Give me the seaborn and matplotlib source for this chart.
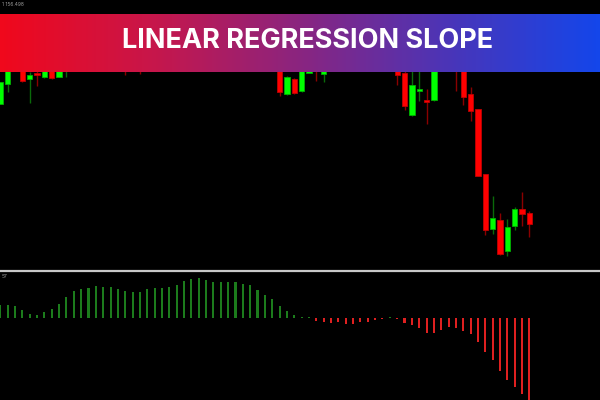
import numpy as np
import pandas as pd
import seaborn as sns
import matplotlib.pyplot as plt
from matplotlib.colors import LinearSegmentedColormap
from matplotlib.lines import Line2D

# OHLC of each bar (many of them sit behind the title banner)
opens = [154.42, 154.81, 155.40, 155.26, 154.91, 155.03, 154.96, 155.30, 154.96, 155.10,
         155.26, 155.40, 155.32, 155.50, 155.62, 155.48, 155.36, 155.20, 155.10, 155.22,
         155.16, 155.34, 155.52, 155.66, 155.80, 155.74, 155.90, 156.02, 155.94, 156.06,
         155.96, 155.80, 155.66, 155.50, 155.56, 155.42, 155.28, 155.34, 155.18, 154.61,
         154.92, 154.68, 155.04, 155.30, 155.02, 155.12, 155.28, 155.40, 155.34, 155.46,
         155.38, 155.30, 155.36, 155.26, 155.20, 155.03, 154.20, 154.68, 154.50, 154.49,
         155.16, 155.30, 155.30, 155.12, 154.62, 154.31, 153.01, 151.91, 152.09, 151.47,
         151.97, 152.32, 152.24]
highs = [154.86, 155.30, 155.50, 155.34, 155.06, 155.10, 155.20, 155.36, 155.26, 155.32,
         155.46, 155.48, 155.56, 155.70, 155.66, 155.54, 155.40, 155.26, 155.30, 155.28,
         155.40, 155.58, 155.72, 155.88, 155.90, 155.98, 156.10, 156.12, 156.14, 156.12,
         156.00, 155.84, 155.70, 155.62, 155.60, 155.46, 155.40, 155.38, 155.24, 154.97,
         154.94, 155.32, 155.28, 155.36, 155.16, 155.34, 155.48, 155.52, 155.54, 155.50,
         155.44, 155.42, 155.40, 155.32, 155.26, 155.10, 155.10, 155.08, 154.72, 155.22,
         155.36, 155.40, 155.36, 155.18, 154.75, 154.31, 153.01, 152.58, 152.23, 152.11,
         152.36, 152.66, 152.27]
lows = [154.41, 154.65, 155.08, 154.86, 154.43, 154.78, 154.93, 154.92, 154.95, 154.96,
        155.20, 155.26, 155.28, 155.44, 155.40, 155.28, 155.12, 155.00, 155.08, 155.02,
        155.12, 155.30, 155.46, 155.60, 155.66, 155.70, 155.84, 155.88, 155.90, 155.88,
        155.72, 155.60, 155.44, 155.40, 155.34, 155.20, 155.22, 155.12, 154.57, 154.59,
        154.62, 154.66, 155.05, 154.89, 154.85, 155.08, 155.22, 155.28, 155.30, 155.30,
        155.24, 155.22, 155.18, 155.12, 154.79, 154.30, 154.18, 154.48, 154.01, 154.47,
        155.10, 155.16, 154.67, 154.40, 154.08, 152.97, 151.79, 151.81, 151.40, 151.38,
        151.89, 151.98, 151.75]
closes = [154.85, 155.18, 155.14, 154.87, 155.00, 155.00, 155.12, 154.93, 155.18, 155.26,
          155.40, 155.32, 155.50, 155.62, 155.48, 155.36, 155.20, 155.10, 155.22, 155.16,
          155.34, 155.52, 155.66, 155.80, 155.74, 155.90, 156.02, 155.94, 156.06, 155.96,
          155.80, 155.66, 155.50, 155.56, 155.42, 155.28, 155.34, 155.20, 154.65, 154.95,
          154.64, 155.26, 155.20, 155.12, 155.14, 155.28, 155.40, 155.34, 155.46, 155.38,
          155.30, 155.36, 155.26, 155.20, 155.00, 154.38, 154.79, 154.72, 154.46, 155.16,
          155.30, 155.24, 155.14, 154.56, 154.27, 152.97, 151.89, 152.14, 151.41, 151.96,
          152.31, 152.21, 152.01]

# linear regression slope histogram
slope = [13, 13, 12, 8, 3.7, 3, 6, 9, 13.7, 21,
         26.7, 28.7, 30, 31.7, 31, 30.7, 28.7, 26.7, 26, 26.3,
         29, 30, 30.3, 31, 33, 36.7, 39, 39.7, 37.7, 36.3,
         36, 36, 35.7, 34, 33, 28.3, 23, 19.3, 12, 7.3,
         2.7, 1.3, 1, -2.7, -4.3, -4.7, -4.3, -6, -6, -3.7,
         -3.7, -2, -0.7, 0.7, -1, -4.7, -7.3, -10.3, -14.7, -15,
         -12, -9, -9.7, -12.7, -16.3, -24, -33.7, -42.3, -53, -62.3,
         -68.7, -76, -88]
slope = [v / 1000 for v in slope]

title = "LINEAR REGRESSION SLOPE"
price_label = "1 156.498"
sub_label = "57"

df = pd.DataFrame({"open": opens, "high": highs, "low": lows, "close": closes, "slope": slope})
df["idx"] = np.arange(len(df))
df["up"] = df["close"] >= df["open"]
df["sign"] = np.where(df["slope"] >= 0, "pos", "neg")

sns.set_theme(style="dark")
plt.rcParams["font.family"] = ["Inter", "DejaVu Sans"]

fig = plt.figure(figsize=(6, 4), dpi=100, facecolor="black")
ax = fig.add_axes([0, 1 - 268 / 400, 1, 268 / 400])
ax2 = fig.add_axes([0, 0, 1, 128 / 400])
for a in (ax, ax2):
    a.set_facecolor("black")
    a.set_xlim(-0.04, 81.6)
    a.set_axis_off()

# candles
body_lo = df[["open", "close"]].min(axis=1)
body_h = (df["close"] - df["open"]).abs().clip(lower=0.04)
wick_col = np.where(df["up"], "#0a6a0a", "#8a0000")
body_col = np.where(df["up"], "#00ff00", "#ff0000")
edge_col = np.where(df["up"], "#00b000", "#c00000")
ax.vlines(df["idx"], df["low"], df["high"], colors=wick_col, linewidth=1, zorder=1)
ax.bar(df["idx"], body_h, bottom=body_lo, width=0.72, color=body_col,
       edgecolor=edge_col, linewidth=0.6, zorder=2)
ax.set_ylim(156.5 - 268 * 0.02, 156.5)

# slope histogram
sns.barplot(data=df, x="idx", y="slope", hue="sign", palette={"pos": "#0c8c0c", "neg": "#ff0000"},
            native_scale=True, width=0.28, dodge=False, legend=False, ax=ax2,
            edgecolor="none", linewidth=0)
ax2.set_xlim(-0.04, 81.6)
ax2.set_ylim(-0.082, 0.046)
ax2.set_axis_off()

# separator between windows
fig.add_artist(Line2D([0, 1], [1 - 271 / 400] * 2, color="#c8c8c8", linewidth=1.6))

# gradient title banner
bax = fig.add_axes([0, 1 - 71.7 / 400, 1, 57.4 / 400], zorder=5)
cmap = LinearSegmentedColormap.from_list("banner", ["#f0081c", "#c8164a", "#8a2580", "#4a35b8", "#1446ea"])
bax.imshow(np.linspace(0, 1, 300).reshape(1, -1), cmap=cmap, aspect="auto", extent=(0, 1, 0, 1))
bax.set_axis_off()
fig.text(0.513, 1 - 41.5 / 400, title, color="white", fontsize=19.5, fontweight="bold",
         ha="center", va="center", zorder=6)

fig.text(0.004, 1 - 5 / 400, price_label, color="#9a9a9a", fontsize=3.5, va="center")
fig.text(0.002, 1 - 276 / 400, sub_label, color="#9a9a9a", fontsize=3.5, va="center")

fig.savefig("out.png", dpi=100, facecolor="black")
